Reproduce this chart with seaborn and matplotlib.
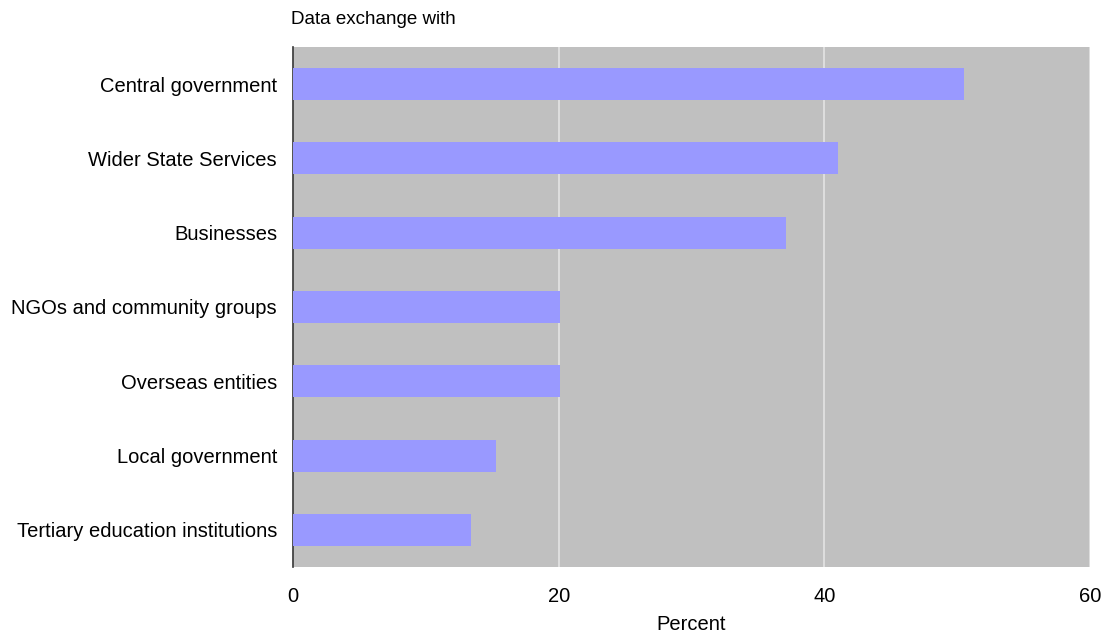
import matplotlib
matplotlib.use("Agg")
import matplotlib.pyplot as plt
import seaborn as sns
import pandas as pd

categories = [
    "Central government",
    "Wider State Services",
    "Businesses",
    "NGOs and community groups",
    "Overseas entities",
    "Local government",
    "Tertiary education institutions",
]
percent = [50.5, 41.0, 37.1, 20.1, 20.1, 15.3, 13.4]
x_ticks = [0, 20, 40, 60]

df = pd.DataFrame({"category": categories, "percent": percent})

sns.set_theme(style="white")
plt.rcParams["font.family"] = ["Liberation Sans", "DejaVu Sans"]

fig = plt.figure(figsize=(11.02, 6.32), dpi=100)
ax = fig.add_axes([293 / 1102, 1 - 567 / 632, (1090 - 293) / 1102, (567 - 47) / 632])
ax.set_facecolor("#C0C0C0")

sns.barplot(data=df, x="percent", y="category", orient="h", color="#9999FF",
            saturation=1, width=0.43, linewidth=0, edgecolor="none", ax=ax, zorder=3)

fs = 14.5
ax.set_xlim(0, 60)
ax.set_xticks(x_ticks)
ax.set_xticklabels([str(t) for t in x_ticks], fontsize=fs, color="black")
ax.xaxis.grid(True, color="#E4E4E4", linewidth=1.2, zorder=1)
ax.set_axisbelow(True)
ax.tick_params(axis="x", length=0, pad=14.5)
ax.tick_params(axis="y", length=0, pad=11.5, labelsize=fs, labelcolor="black")
ax.set_xlabel("Percent", fontsize=fs, color="black", labelpad=6.5)
ax.set_ylabel("")

for side in ["top", "right", "bottom"]:
    ax.spines[side].set_visible(False)
ax.spines["left"].set_color("#333333")
ax.spines["left"].set_linewidth(1.2)

fig.text(291 / 1102, 1 - 19 / 632, "Data exchange with", fontsize=13.5, ha="left", va="center", color="black")

fig.savefig("out.png", dpi=100, facecolor="white")
